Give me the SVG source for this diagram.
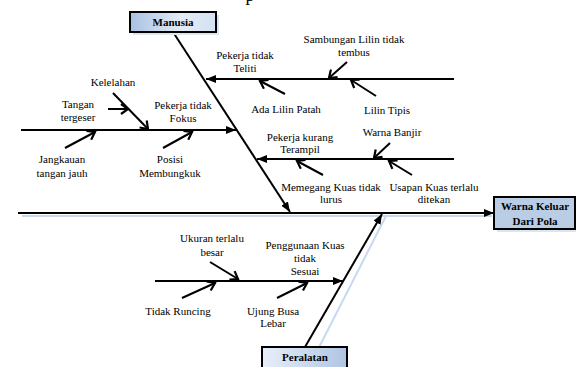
<svg xmlns="http://www.w3.org/2000/svg" width="576" height="367" viewBox="0 0 576 367">
<style>
text{font-family:"Liberation Serif","Times New Roman",serif;font-size:11px;fill:#000;text-anchor:middle}
.b{font-weight:bold}
.ln{stroke:#000;stroke-width:2;fill:none}
.sh{stroke:#c6d9f1;stroke-width:2;fill:none}
.box{stroke:#000;stroke-width:2}
</style>
<defs>
<marker id="fa" markerUnits="userSpaceOnUse" markerWidth="10" markerHeight="8" refX="10" refY="4" orient="auto"><path d="M0,0 L10,4 L0,8 z" fill="#000"/></marker>
<marker id="oa" markerUnits="userSpaceOnUse" markerWidth="10" markerHeight="12" refX="8" refY="6" orient="auto"><path d="M1,1 L8,6 L1,11" fill="none" stroke="#000" stroke-width="2.2"/></marker>
<linearGradient id="g1" x1="0" y1="0" x2="1" y2="0"><stop offset="0" stop-color="#a9c0e2"/><stop offset="0.6" stop-color="#e3ebf7"/><stop offset="1" stop-color="#d4e1f2"/></linearGradient>
<linearGradient id="g2" x1="0" y1="0" x2="1" y2="0"><stop offset="0" stop-color="#e8eff9"/><stop offset="1" stop-color="#afc5e3"/></linearGradient>
</defs>
<text x="250" y="1" style="font-size:18px">p</text>
<g id="connectors">
<line class="sh" x1="22" y1="216" x2="492" y2="216"/>
<line class="sh" x1="309" y1="367" x2="386" y2="216"/>
<line class="ln" x1="18" y1="213" x2="494" y2="213" marker-end="url(#fa)"/>
<line class="ln" x1="173" y1="32" x2="290" y2="212" marker-end="url(#fa)"/>
<line class="ln" x1="305" y1="347" x2="382" y2="214" marker-end="url(#fa)"/>
<line class="ln" x1="454" y1="79" x2="206" y2="79" marker-end="url(#fa)"/>
<line class="ln" x1="454" y1="159" x2="257" y2="159" marker-end="url(#fa)"/>
<line class="ln" x1="21" y1="130" x2="236" y2="130" marker-end="url(#fa)"/>
<line class="ln" x1="155" y1="281" x2="343" y2="281" marker-end="url(#fa)"/>
<line class="ln" x1="347" y1="62" x2="329" y2="78" marker-end="url(#oa)"/>
<line class="ln" x1="376" y1="96" x2="351" y2="80" marker-end="url(#oa)"/>
<line class="ln" x1="285" y1="94" x2="260" y2="81" marker-end="url(#oa)"/>
<line class="ln" x1="390" y1="143" x2="374" y2="158" marker-end="url(#oa)"/>
<line class="ln" x1="412" y1="175" x2="389" y2="161" marker-end="url(#oa)"/>
<line class="ln" x1="323" y1="175" x2="297" y2="161" marker-end="url(#oa)"/>
<line class="ln" x1="113" y1="93" x2="148" y2="129" marker-end="url(#oa)"/>
<line class="ln" x1="108" y1="109" x2="128" y2="109" marker-end="url(#oa)"/>
<line class="ln" x1="65" y1="148" x2="95" y2="132" marker-end="url(#oa)"/>
<line class="ln" x1="163" y1="148" x2="192" y2="132" marker-end="url(#oa)"/>
<line class="ln" x1="210" y1="262" x2="238" y2="279" marker-end="url(#oa)"/>
<line class="ln" x1="182" y1="298" x2="215" y2="283" marker-end="url(#oa)"/>
<line class="ln" x1="277" y1="298" x2="307" y2="283" marker-end="url(#oa)"/>
</g>
<g id="manusia">
<rect x="133" y="15" width="86" height="20" fill="#dce6f2"/>
<rect class="box" x="130" y="12" width="86" height="20" fill="url(#g1)"/>
<text class="b" x="173" y="26">Manusia</text>
</g>
<g id="warna-keluar">
<rect x="497" y="200" width="81" height="32" fill="#dce6f2"/>
<rect class="box" x="494" y="197" width="81" height="32" fill="#b9cde5"/>
<text class="b" x="535" y="210">Warna Keluar</text>
<text class="b" x="535" y="225">Dari Pola</text>
</g>
<g id="peralatan">
<rect class="box" x="262" y="347" width="85" height="24" fill="url(#g2)"/>
<text class="b" x="305" y="361">Peralatan</text>
</g>
<g id="pekerja-tidak-teliti"><text x="245" y="59">Pekerja tidak</text><text x="245" y="72">Teliti</text></g>
<g id="sambungan"><text x="354" y="43">Sambungan Lilin tidak</text><text x="354" y="56">tembus</text></g>
<g id="ada-lilin-patah"><text x="286" y="113">Ada Lilin Patah</text></g>
<g id="lilin-tipis"><text x="387" y="114">Lilin Tipis</text></g>
<g id="kelelahan"><text x="113" y="86">Kelelahan</text></g>
<g id="tangan-tergeser"><text x="78" y="108">Tangan</text><text x="78" y="121">tergeser</text></g>
<g id="pekerja-tidak-fokus"><text x="183" y="109">Pekerja tidak</text><text x="183" y="122">Fokus</text></g>
<g id="jangkauan"><text x="62" y="163">Jangkauan</text><text x="62" y="177">tangan jauh</text></g>
<g id="posisi"><text x="170" y="163">Posisi</text><text x="170" y="177">Membungkuk</text></g>
<g id="pekerja-kurang-terampil"><text x="300" y="141">Pekerja kurang</text><text x="300" y="153">Terampil</text></g>
<g id="warna-banjir"><text x="392" y="136">Warna Banjir</text></g>
<g id="memegang"><text x="331" y="191">Memegang Kuas tidak</text><text x="331" y="203">lurus</text></g>
<g id="usapan"><text x="434" y="191">Usapan Kuas terlalu</text><text x="434" y="203">ditekan</text></g>
<g id="ukuran"><text x="212" y="242">Ukuran terlalu</text><text x="212" y="256">besar</text></g>
<g id="penggunaan"><text x="305" y="249">Penggunaan Kuas</text><text x="305" y="262">tidak</text><text x="305" y="275">Sesuai</text></g>
<g id="tidak-runcing"><text x="178" y="315">Tidak Runcing</text></g>
<g id="ujung-busa"><text x="273" y="315">Ujung Busa</text><text x="273" y="327">Lebar</text></g>
</svg>
